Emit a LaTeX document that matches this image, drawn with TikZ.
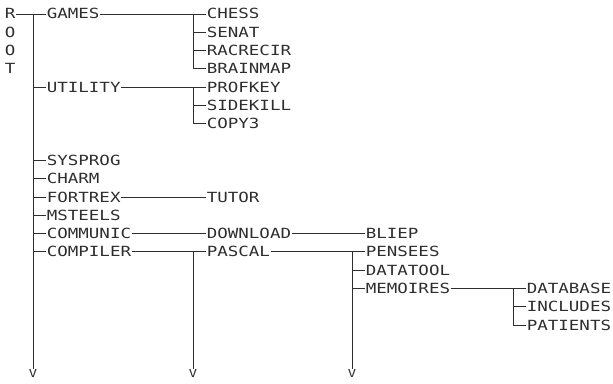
\documentclass[tikz,border=0pt]{standalone}
\usepackage{fontspec}
\newfontfamily\plotfont[FakeStretch=1.25]{DejaVu Sans Mono}
\usepackage{tikz}
\usetikzlibrary{positioning,calc}
\definecolor{ink}{HTML}{2E2E2E}

\begin{document}
\begin{tikzpicture}[x=1pt,y=-18.3pt,
  item/.style={anchor=west,inner xsep=0.6pt,inner ysep=0pt,text height=10pt,text depth=0pt,
    font=\plotfont\fontsize{14}{14}\selectfont,text=ink},
  wire/.style={draw=ink,line width=0.9pt},
  more/.style={anchor=north,inner sep=0pt,font=\plotfont\fontsize{11}{11}\selectfont,text=ink}]
  \useasboundingbox (0,-0.765) rectangle (613,20.164);
  % ROOT, written down the left edge
  \node[item] (r)  at (4,0) {R};
  \node[item] (o1) at (4,1) {O};
  \node[item] (o2) at (4,2) {O};
  \node[item] (t)  at (4,3) {T};
  % first level
  \foreach \n/\t/\r in {games/GAMES/0, utility/UTILITY/4, sysprog/SYSPROG/8, charm/CHARM/9,
      fortrex/FORTREX/10, msteels/MSTEELS/11, communic/COMMUNIC/12, compiler/COMPILER/13}
    \node[item] (\n) at (46,\r) {\t};
  % second level
  \foreach \n/\t/\r in {chess/CHESS/0, senat/SENAT/1, racrecir/RACRECIR/2, brainmap/BRAINMAP/3,
      profkey/PROFKEY/4, sidekill/SIDEKILL/5, copy3/COPY3/6, tutor/TUTOR/10,
      download/DOWNLOAD/12, pascal/PASCAL/13}
    \node[item] (\n) at (206,\r) {\t};
  % third and fourth level
  \foreach \n/\t/\r in {bliep/BLIEP/12, pensees/PENSEES/13, datatool/DATATOOL/14, memoires/MEMOIRES/15}
    \node[item] (\n) at (365,\r) {\t};
  \foreach \n/\t/\r in {database/DATABASE/15, includes/INCLUDES/16, patients/PATIENTS/17}
    \node[item] (\n) at (526,\r) {\t};

  % main spine
  \coordinate (spine0) at (33,19.4);
  \draw[wire] (r) -- (games);
  \draw[wire] (r -| spine0) -- (spine0);
  \foreach \n in {utility,sysprog,charm,fortrex,msteels,communic,compiler}
    \draw[wire] (\n -| spine0) -- (\n);
  \node[more] (v0) at (spine0) {V};

  % GAMES and UTILITY
  \coordinate (g) at (193,0);
  \draw[wire] (games) -- (chess);
  \draw[wire] (chess -| g) |- (brainmap);
  \foreach \n in {senat,racrecir} \draw[wire] (\n -| g) -- (\n);
  \draw[wire] (utility) -- (profkey);
  \draw[wire] (profkey -| g) |- (copy3);
  \draw[wire] (sidekill -| g) -- (sidekill);

  % single children
  \draw[wire] (fortrex) -- (tutor);
  \draw[wire] (communic) -- (download);
  \draw[wire] (download) -- (bliep);

  % COMPILER and PASCAL
  \coordinate (spine1) at (193,19.4);
  \draw[wire] (compiler) -- (pascal);
  \draw[wire] (pascal -| spine1) -- (spine1);
  \node[more] (v1) at (spine1) {V};
  \coordinate (spine2) at (352,19.4);
  \draw[wire] (pascal) -- (pensees);
  \draw[wire] (pensees -| spine2) -- (spine2);
  \foreach \n in {datatool,memoires} \draw[wire] (\n -| spine2) -- (\n);
  \node[more] (v2) at (spine2) {V};

  % MEMOIRES
  \coordinate (m) at (513,15);
  \draw[wire] (memoires) -- (database);
  \draw[wire] (database -| m) |- (patients);
  \draw[wire] (includes -| m) -- (includes);
\end{tikzpicture}
\end{document}
